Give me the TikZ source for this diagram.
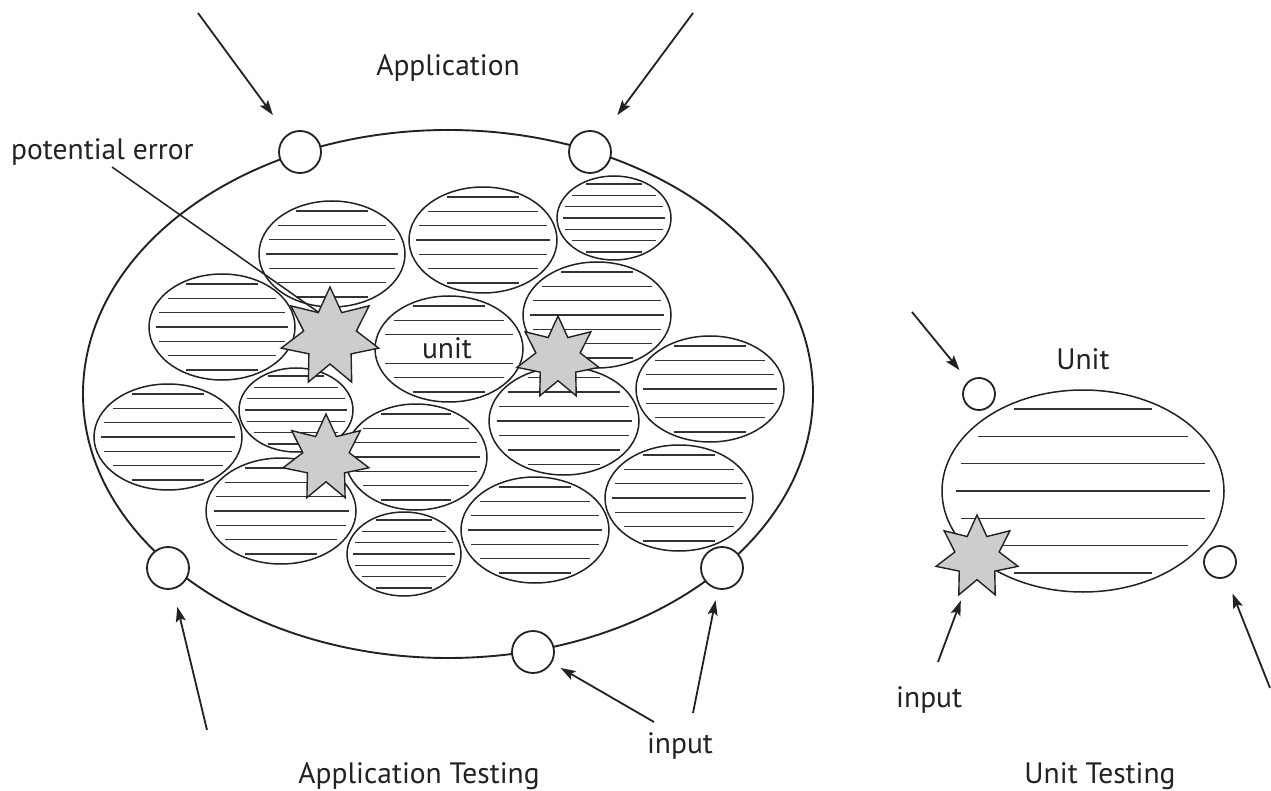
\documentclass[tikz,border=0pt]{standalone}
\usepackage{fontspec}
\setmainfont{PT Sans}
\usetikzlibrary{arrows.meta,shapes.geometric}

\definecolor{ink}{HTML}{222222}
\definecolor{hatchgray}{HTML}{333333}
\definecolor{errfill}{HTML}{CDCDCD}
\newcommand\lblfont{\fontsize{29.5}{35}\selectfont}

% hatched ellipse: centre x, centre y, x radius, y radius, line indices
\newcommand\hatchell[5]{%
  \foreach \k in {#5}{%
    \pgfmathsetmacro\dy{0.27*#4*\k}%
    \pgfmathsetmacro\hw{#3*sqrt(1-(\dy/#4)^2)-0.1*#3}%
    \pgfmathsetmacro\xa{#1-\hw}%
    \pgfmathsetmacro\xb{#1+\hw}%
    \pgfmathsetmacro\yy{#2+\dy}%
    \draw[hatchline] (\xa,\yy) -- (\xb,\yy);
  }%
  \draw[cell] (#1,#2) ellipse [x radius=#3, y radius=#4];%
}

\begin{document}
\begin{tikzpicture}[x=1pt,y=-1pt,
  outer/.style={draw=ink, line width=1.9pt},
  cell/.style={draw=ink, line width=1.5pt},
  hatchline/.style={draw=hatchgray, line width=1.5pt},
  port/.style={circle, draw=ink, fill=white, line width=1.8pt, inner sep=0pt, minimum size=42pt},
  smallport/.style={port, minimum size=32pt},
  errstar/.style={star, star points=7, star point ratio=1.85, draw=ink, fill=errfill,
    line width=1.4pt, inner sep=0pt},
  inarrow/.style={draw=ink, line width=1.8pt, -{Stealth[length=15pt,width=10pt,inset=3pt]}},
  lbl/.style={text=ink, font=\lblfont, inner sep=0pt},
]
\useasboundingbox (0,0) rectangle (1271,791);
\fill[white] (0,0) rectangle (1271,791);

% ---------- application ----------
\draw[outer] (448,394) ellipse [x radius=365, y radius=264];

\hatchell{332}{254}{73}{53}{-3,...,3}
\hatchell{483}{240}{74}{53}{-3,...,3}
\hatchell{614}{218}{57}{42}{-3,...,3}
\hatchell{222}{327}{73}{53}{-3,...,3}
\hatchell{449}{349}{74}{53}{-3,-2,-1,1,2,3}
\hatchell{597}{315}{74}{53}{-3,...,3}
\hatchell{710}{389}{74}{53}{-3,...,3}
\hatchell{168}{437}{74}{53}{-3,...,3}
\hatchell{296}{410}{57}{42}{-3,...,3}
\hatchell{564}{421}{75}{54}{-3,...,3}
\hatchell{416}{457}{71}{53}{-3,...,3}
\hatchell{281}{511}{75}{53}{-3,...,3}
\hatchell{404}{554}{57}{42}{-3,...,3}
\hatchell{535}{530}{74}{53}{-3,...,3}
\hatchell{679}{498}{74}{53}{-3,...,3}

\node[lbl, anchor=base] (unitlbl) at (447,359) {unit};

\node[lbl, anchor=base west] (pe) at (11,160) {potential error};
\coordinate (petail) at (112,167);

\node[errstar, minimum size=100pt] (s1) at (330,337) {};
\node[errstar, minimum size=84pt]  (s2) at (558,358) {};
\node[errstar, minimum size=88pt]  (s3) at (326,458) {};
\draw[ink, line width=1.5pt] (petail) -- (s1.inner point 1);

\node[port] (p1) at (300,152) {};
\node[port] (p2) at (590,152) {};
\node[port] (p3) at (168,568) {};
\node[port] (p4) at (722,568) {};
\node[port] (p5) at (533,652) {};

\coordinate (t1) at (198,13);
\coordinate (t2) at (693,13);
\coordinate (t3) at (207,730);
\coordinate (t4) at (693,713);
\coordinate (t5) at (654,722);
\draw[inarrow, shorten >=24pt] (t1) -- (p1);
\draw[inarrow, shorten >=24pt] (t2) -- (p2);
\draw[inarrow, shorten >=18pt] (t3) -- (p3);
\draw[inarrow, shorten >=11pt] (t4) -- (p4);
\draw[inarrow, shorten >=10pt] (t5) -- (p5);

\node[lbl, anchor=base] (applbl) at (448,76) {Application};
\node[lbl, anchor=base] (inlbl) at (680,753) {input};
\node[lbl, anchor=base] (apptest) at (419,783) {Application Testing};

% ---------- unit ----------
\hatchell{1083}{491}{141}{101}{-3,...,3}
\node[errstar, minimum size=84pt] (s4) at (977,557) {};

\node[smallport] (u1) at (979,394) {};
\node[smallport] (u2) at (1220,562) {};

\coordinate (ut1) at (912,312);
\coordinate (ut2) at (1270,688);
\coordinate (ut3) at (938,662);
\draw[inarrow, shorten >=14pt] (ut1) -- (u1);
\draw[inarrow, shorten >=17pt] (ut2) -- (u2);
\draw[inarrow, shorten >=10pt] (ut3) -- (s4);

\node[lbl, anchor=base] (unithead) at (1083,370) {Unit};
\node[lbl, anchor=base west] (uin) at (896,707) {input};
\node[lbl, anchor=base] (unittest) at (1100,783) {Unit Testing};
\end{tikzpicture}
\end{document}
